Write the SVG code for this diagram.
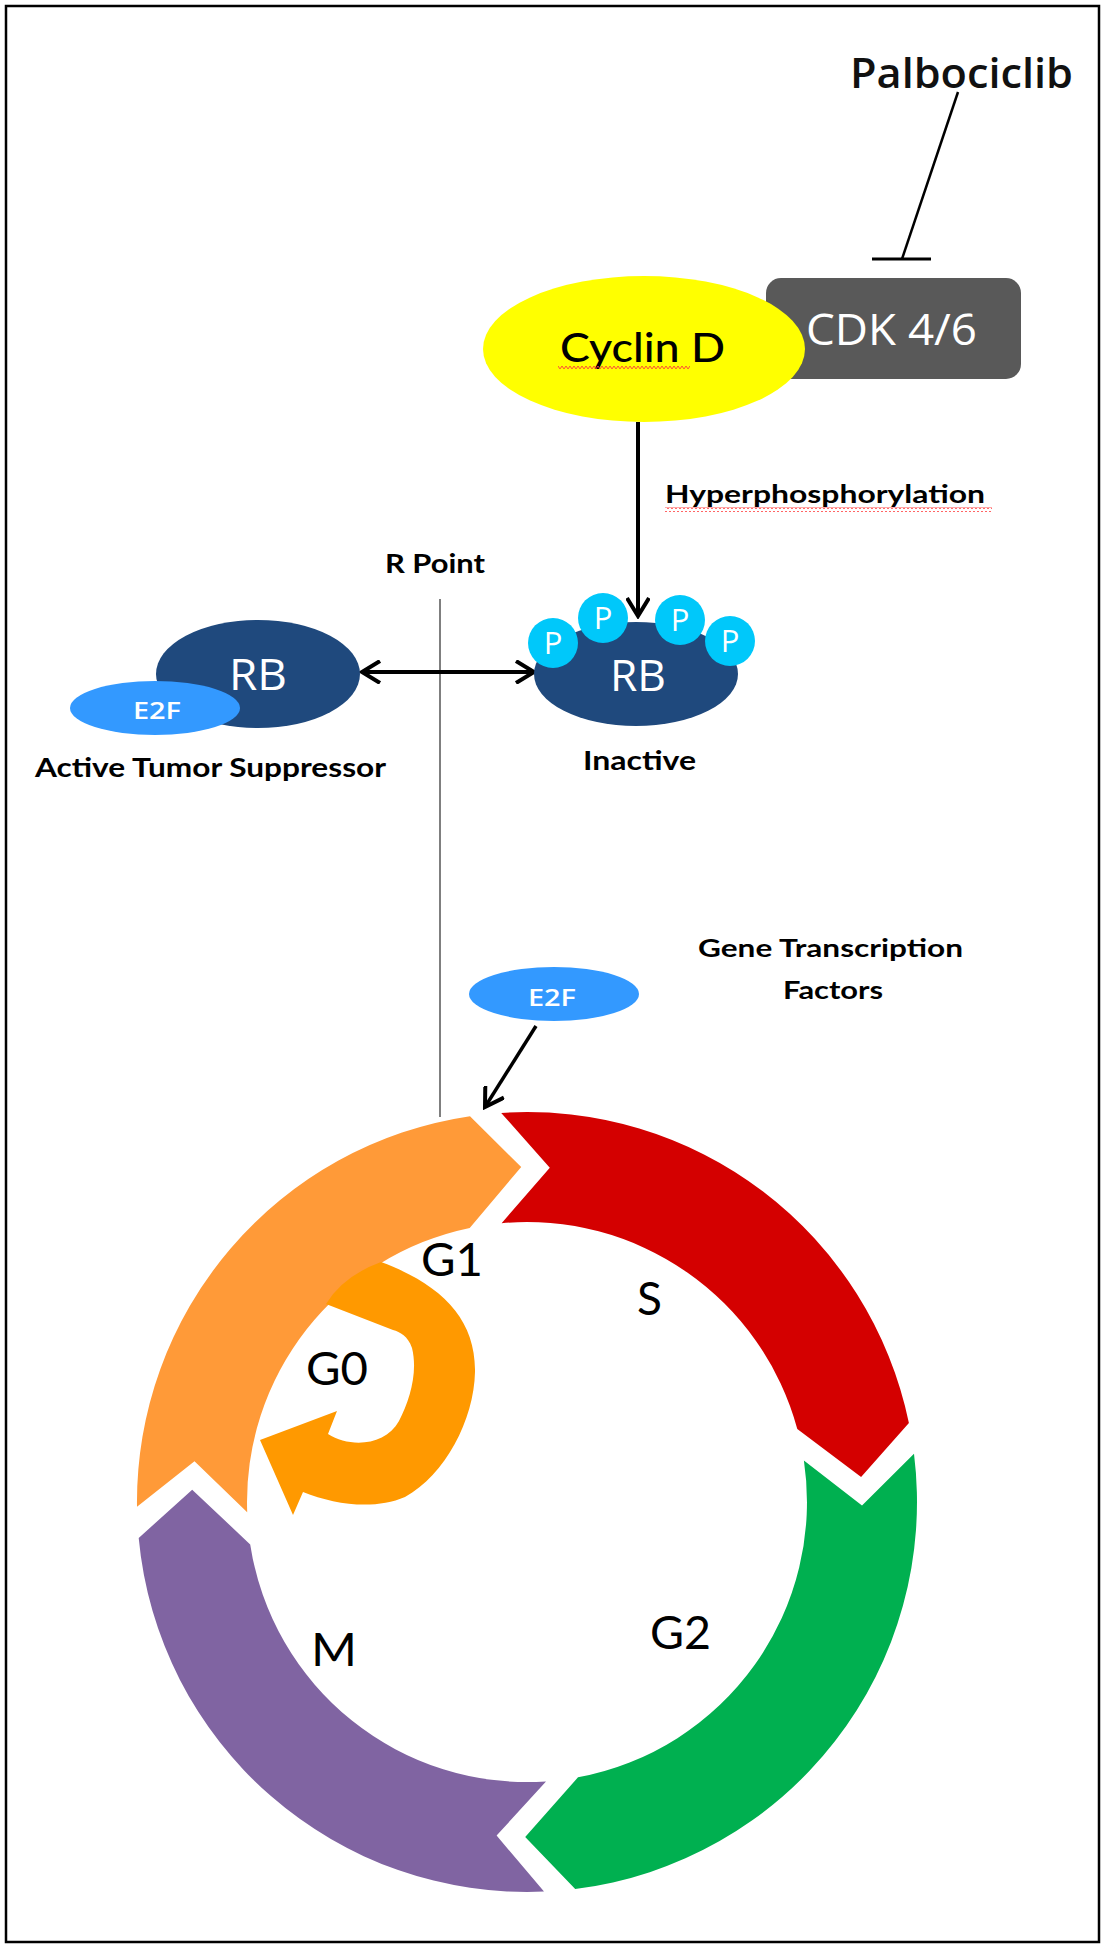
<svg xmlns="http://www.w3.org/2000/svg" width="1107" height="1950" viewBox="0 0 1107 1950">
<style>
.cal{font-family:Lato,"Open Sans","Liberation Sans",sans-serif;fill:#000}
.b{font-weight:bold}
.gs{font-family:"Open Sans","Noto Sans","Liberation Sans",sans-serif;fill:#fff}
.phase{font-family:Lato,"Open Sans","Liberation Sans",sans-serif;font-size:46px;fill:#000}
.conn{stroke:#000;fill:none}
.ptxt{font-family:"Open Sans","Noto Sans",sans-serif;font-size:31px;fill:#fff;text-anchor:middle}
</style>
<defs>
<marker id="arr" viewBox="0 0 24 24" refX="21" refY="12" markerWidth="24" markerHeight="24" markerUnits="userSpaceOnUse" orient="auto-start-reverse">
<path d="M3,1 L21,12 L3,23" fill="none" stroke="#000" stroke-width="4"/>
</marker>
<pattern id="squig" width="4" height="5" patternUnits="userSpaceOnUse">
<path d="M0,4 L2,1 L4,4" fill="none" stroke="#ff3b3b" stroke-width="0.9"/>
</pattern>
</defs>
<rect x="0" y="0" width="1107" height="1950" fill="#fff"/>
<rect x="6" y="6" width="1093" height="1936" fill="none" stroke="#000" stroke-width="2.5"/>

<g id="connectors">
<line x1="440" y1="599" x2="440" y2="1117" stroke="#7f7f7f" stroke-width="2"/>
<line class="conn" x1="958" y1="92" x2="902" y2="259" stroke-width="2.5"/>
<line class="conn" x1="872" y1="259" x2="931" y2="259" stroke-width="3"/>
<line class="conn" x1="638" y1="422" x2="638" y2="616" stroke-width="4" marker-end="url(#arr)"/>
<line class="conn" x1="362" y1="672" x2="534" y2="672" stroke-width="4" marker-start="url(#arr)" marker-end="url(#arr)"/>
<line class="conn" x1="536" y1="1026" x2="485" y2="1107" stroke-width="3.5" marker-end="url(#arr)"/>
</g>

<g id="palbociclib">
<text x="850" y="88" font-family="'Open Sans','Noto Sans',sans-serif" font-weight="600" font-size="42" fill="#111" textLength="223" lengthAdjust="spacingAndGlyphs">Palbociclib</text>
</g>

<g id="cdk46">
<rect x="766" y="278" width="255" height="101" rx="15" fill="#595959"/>
<text class="gs" x="806" y="345" font-size="43" textLength="171" lengthAdjust="spacingAndGlyphs">CDK 4/6</text>
</g>

<g id="cyclinD">
<ellipse cx="644" cy="349" rx="161" ry="73" fill="#ffff00"/>
<text class="cal" x="560" y="362" font-size="41" font-weight="500" textLength="165" lengthAdjust="spacingAndGlyphs">Cyclin D</text>
<rect x="558" y="365" width="132" height="5" fill="url(#squig)"/>
</g>

<g id="hyperphosphorylation-label">
<text class="cal b" x="665" y="503" font-size="25" textLength="320" lengthAdjust="spacingAndGlyphs">Hyperphosphorylation</text>
<rect x="665" y="507" width="327" height="5" fill="url(#squig)"/>
</g>

<g id="rpoint-label">
<text class="cal b" x="385" y="573" font-size="27" textLength="100" lengthAdjust="spacingAndGlyphs">R Point</text>
</g>

<g id="rb-active">
<ellipse cx="258" cy="674" rx="102" ry="54" fill="#1f497d"/>
<text class="gs" x="229" y="690" font-size="44" textLength="58" lengthAdjust="spacingAndGlyphs">RB</text>
<ellipse cx="155" cy="708" rx="85" ry="27" fill="#3399ff"/>
<text class="gs" x="133" y="719" font-size="24" font-weight="600" textLength="48" lengthAdjust="spacingAndGlyphs">E2F</text>
<text class="cal b" x="35" y="777" font-size="27" textLength="351" lengthAdjust="spacingAndGlyphs">Active Tumor Suppressor</text>
</g>

<g id="rb-inactive">
<ellipse cx="636" cy="674" rx="102" ry="52" fill="#1f497d"/>
<circle cx="553" cy="643" r="25" fill="#00c8fa"/>
<circle cx="603" cy="618" r="25" fill="#00c8fa"/>
<circle cx="680" cy="620" r="25" fill="#00c8fa"/>
<circle cx="730" cy="641" r="25" fill="#00c8fa"/>
<text class="ptxt" x="553" y="654">P</text>
<text class="ptxt" x="603" y="629">P</text>
<text class="ptxt" x="680" y="631">P</text>
<text class="ptxt" x="730" y="652">P</text>
<text class="gs" x="610" y="691" font-size="44" textLength="56" lengthAdjust="spacingAndGlyphs">RB</text>
<text class="cal b" x="583" y="770" font-size="27" textLength="113" lengthAdjust="spacingAndGlyphs">Inactive</text>
</g>

<g id="gene-transcription-label">
<text class="cal b" x="698" y="957" font-size="25" textLength="265" lengthAdjust="spacingAndGlyphs">Gene Transcription</text>
<text class="cal b" x="783" y="999" font-size="25" textLength="100" lengthAdjust="spacingAndGlyphs">Factors</text>
</g>

<g id="e2f-free">
<ellipse cx="554" cy="994" rx="85" ry="27" fill="#3399ff"/>
<text class="gs" x="528" y="1006" font-size="24" font-weight="600" textLength="48" lengthAdjust="spacingAndGlyphs">E2F</text>
</g>

<g id="phase-G1">
<path d="M137,1506.8 A390,390 0 0 1 470,1116.2 L521.2,1167 L469.7,1227.9 A280,280 0 0 0 247.2,1512.3 L194.5,1461.2 Z" fill="#ff9a38"/>
</g>
<g id="phase-S">
<path d="M501.2,1112.9 A390,390 0 0 1 908.9,1422.9 L861.1,1476.9 L797.3,1429.1 A280,280 0 0 0 501.6,1223.2 L549.8,1167.8 Z" fill="#d40000"/>
</g>
<g id="phase-G2">
<path d="M914,1453.8 A390,390 0 0 1 575.2,1889 L525.2,1837 L578,1777.3 A280,280 0 0 0 803.9,1460.6 L862,1505.5 Z" fill="#00b050"/>
</g>
<g id="phase-M">
<path d="M544,1891.6 A390,390 0 0 1 138.7,1538 L192.2,1489.7 L250.2,1544.4 A280,280 0 0 0 546,1781.4 L496.6,1835.6 Z" fill="#8064a2"/>
</g>
<g id="phase-G0">
<path d="M381,1262 C440,1284 476,1318 475,1372 C474,1420 445,1475 405,1497 C375,1510 335,1505 303,1492 L293,1515 L260,1440 L337,1411 L328,1434 C350,1448 385,1446 399,1421 C410,1400 418,1372 412,1348 C408,1336 400,1332 393,1330 L326,1304 Q343,1276 381,1262 Z" fill="#ff9900"/>
</g>

<g id="phase-labels">
<text class="phase" x="421" y="1276" textLength="62" lengthAdjust="spacingAndGlyphs">G1</text>
<text class="phase" x="637" y="1315" textLength="25" lengthAdjust="spacingAndGlyphs">S</text>
<text class="phase" x="306" y="1385" textLength="62" lengthAdjust="spacingAndGlyphs">G0</text>
<text class="phase" x="311" y="1666" textLength="46" lengthAdjust="spacingAndGlyphs">M</text>
<text class="phase" x="650" y="1649" textLength="61" lengthAdjust="spacingAndGlyphs">G2</text>
</g>
</svg>
